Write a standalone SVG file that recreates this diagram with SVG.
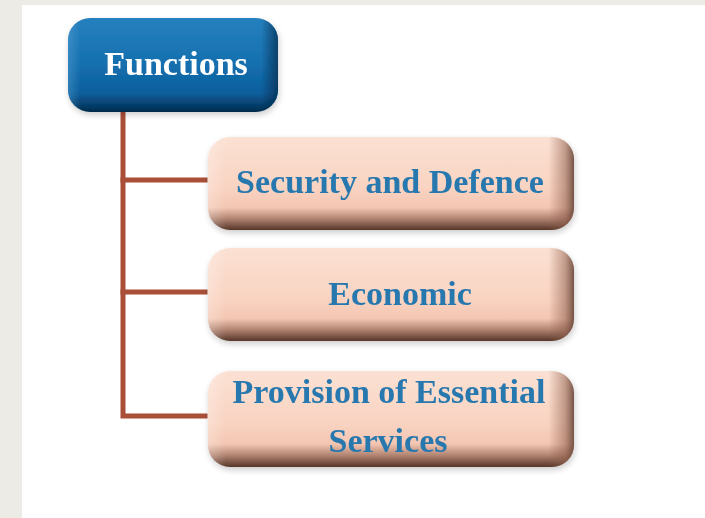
<svg xmlns="http://www.w3.org/2000/svg" width="705" height="518" viewBox="0 0 705 518">
<style>
.conn{stroke:#a94f38;stroke-width:5;fill:none;stroke-linecap:square}
.lbl{font-family:"Liberation Serif","Times New Roman",serif;font-weight:bold;fill:#2878ae;text-anchor:middle;font-size:34px}
.top{font-family:"Liberation Serif","Times New Roman",serif;font-weight:bold;fill:#ffffff;text-anchor:middle;font-size:34px}
</style>
<defs>
<linearGradient id="pv" x1="0" y1="0" x2="0" y2="1">
<stop offset="0" stop-color="#fbe1d3"/>
<stop offset="0.55" stop-color="#f9d3c1"/>
<stop offset="0.76" stop-color="#f3c6b2"/>
<stop offset="0.88" stop-color="#b08270"/>
<stop offset="1" stop-color="#563628"/>
</linearGradient>
<linearGradient id="ph" x1="0" y1="0" x2="1" y2="0">
<stop offset="0" stop-color="#ffffff" stop-opacity="0.25"/>
<stop offset="0.05" stop-color="#ffffff" stop-opacity="0"/>
<stop offset="0.93" stop-color="#8a5a48" stop-opacity="0"/>
<stop offset="0.975" stop-color="#8a5a48" stop-opacity="0.5"/>
<stop offset="1" stop-color="#5e3d30" stop-opacity="0.85"/>
</linearGradient>
<linearGradient id="bv" x1="0" y1="0" x2="0" y2="1">
<stop offset="0" stop-color="#2680be"/>
<stop offset="0.5" stop-color="#156fae"/>
<stop offset="0.8" stop-color="#0b5e9c"/>
<stop offset="0.92" stop-color="#06416e"/>
<stop offset="1" stop-color="#032a4a"/>
</linearGradient>
<linearGradient id="bh" x1="0" y1="0" x2="1" y2="0">
<stop offset="0" stop-color="#6ab0e0" stop-opacity="0.35"/>
<stop offset="0.06" stop-color="#6ab0e0" stop-opacity="0"/>
<stop offset="0.92" stop-color="#032a4a" stop-opacity="0"/>
<stop offset="1" stop-color="#032a4a" stop-opacity="0.7"/>
</linearGradient>
<filter id="sh" x="-10%" y="-10%" width="120%" height="130%">
<feGaussianBlur in="SourceAlpha" stdDeviation="3"/>
<feOffset dx="1" dy="3" result="b"/>
<feComponentTransfer><feFuncA type="linear" slope="0.2"/></feComponentTransfer>
<feMerge><feMergeNode/><feMergeNode in="SourceGraphic"/></feMerge>
</filter>
</defs>
<rect x="0" y="0" width="705" height="518" fill="#ecebe5"/>
<rect x="22" y="5" width="683" height="513" fill="#ffffff"/>
<g id="connectors">
<path class="conn" d="M123 110 V416 H205"/>
<path class="conn" d="M123 180 H205"/>
<path class="conn" d="M123 292 H205"/>
</g>
<g id="functions" filter="url(#sh)">
<rect x="68" y="18" width="210" height="94" rx="22" fill="url(#bv)"/>
<rect x="68" y="18" width="210" height="94" rx="22" fill="url(#bh)"/>
<text class="top" x="176" y="75">Functions</text>
</g>
<g id="security" filter="url(#sh)">
<rect x="208" y="137" width="366" height="93" rx="22" fill="url(#pv)"/>
<rect x="208" y="137" width="366" height="93" rx="22" fill="url(#ph)"/>
<text class="lbl" x="390" y="193">Security and Defence</text>
</g>
<g id="economic" filter="url(#sh)">
<rect x="208" y="248" width="366" height="93" rx="22" fill="url(#pv)"/>
<rect x="208" y="248" width="366" height="93" rx="22" fill="url(#ph)"/>
<text class="lbl" x="400" y="305">Economic</text>
</g>
<g id="provision" filter="url(#sh)">
<rect x="208" y="371" width="366" height="96" rx="22" fill="url(#pv)"/>
<rect x="208" y="371" width="366" height="96" rx="22" fill="url(#ph)"/>
<text class="lbl" x="389" y="403">Provision of Essential</text>
<text class="lbl" x="388" y="452">Services</text>
</g>
</svg>
